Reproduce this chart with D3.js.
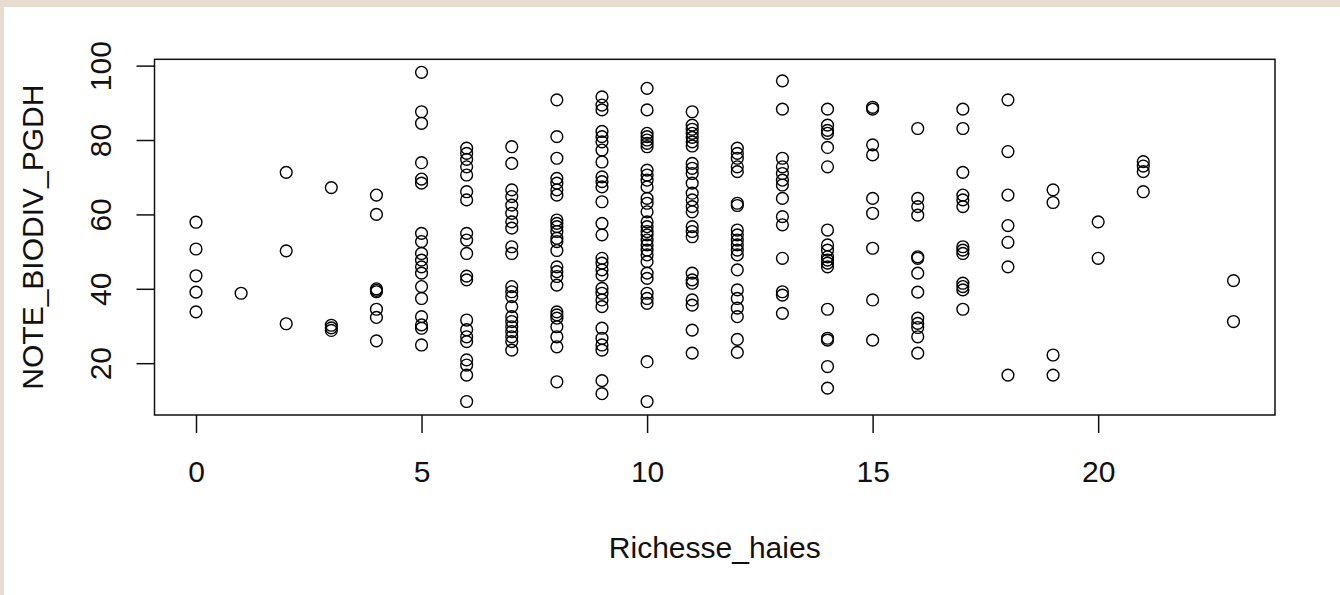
<!DOCTYPE html>
<html>
<head>
<meta charset="utf-8">
<script src="https://cdn.jsdelivr.net/npm/d3@7"></script>
<style>
  html, body { margin: 0; padding: 0; background: #fff; }
  svg { display: block; font-family: "Liberation Sans", Arial, sans-serif; }
</style>
</head>
<body>
<svg id="plot" width="1340" height="595"></svg>
<script>
"use strict";
/*global d3:false */

// Richesse_haies levels and the NOTE_BIODIV_PGDH values found at each level
var richesse = [0, 1, 2, 3, 4, 5, 6, 7, 8, 9, 10, 11, 12, 13, 14, 15, 16, 17, 18, 19, 20, 21, 22, 23];
var notes = [
  [57.9, 50.7, 43.5, 39.1, 33.8],
  [38.8],
  [71.3, 50.2, 30.6],
  [67.2, 30.2, 29.5, 28.8],
  [65.2, 60.0, 40.0, 39.6, 39.2, 34.5, 32.3, 26.0],
  [98.2, 87.6, 84.5, 73.9, 69.5, 68.4, 54.9, 52.7, 49.5, 47.7, 45.9, 44.2, 40.6, 37.4, 32.5, 30.3, 29.4, 24.9],
  [77.8, 76.4, 74.8, 72.8, 70.6, 66.1, 63.9, 54.9, 53.1, 49.5, 43.4, 42.4, 31.6, 29.0, 27.1, 25.8, 20.9, 19.5, 16.8, 9.7],
  [78.2, 73.7, 66.6, 64.8, 62.5, 60.3, 58.0, 56.3, 51.3, 49.5, 40.6, 39.2, 37.9, 35.2, 32.5, 31.2, 29.8, 28.5, 27.1, 25.8, 23.5],
  [90.8, 80.9, 75.1, 69.7, 68.4, 66.6, 65.2, 58.5, 57.6, 56.7, 55.4, 53.6, 52.7, 50.3, 45.9, 44.6, 43.3, 41.0, 33.8, 33.0, 32.1, 29.8, 27.1, 24.4, 15.0],
  [91.6, 89.4, 88.1, 82.3, 80.9, 79.5, 77.3, 74.1, 70.1, 68.8, 67.4, 63.4, 57.6, 54.5, 48.2, 46.9, 45.1, 43.7, 40.1, 38.8, 37.0, 35.2, 29.4, 26.7, 24.9, 23.5, 15.3, 11.8],
  [93.9, 88.1, 81.8, 80.9, 80.0, 79.1, 78.2, 71.9, 70.6, 69.2, 67.4, 64.3, 63.0, 60.7, 58.0, 56.7, 55.4, 54.5, 53.1, 51.8, 50.4, 49.1, 47.3, 44.2, 42.8, 38.8, 37.4, 36.1, 20.4, 9.7],
  [87.6, 84.0, 82.9, 81.8, 80.7, 79.5, 78.4, 73.7, 72.4, 71.0, 68.4, 65.7, 63.9, 62.1, 60.7, 56.7, 55.4, 54.0, 44.2, 42.4, 41.5, 37.0, 35.6, 28.9, 22.7],
  [77.8, 76.4, 75.1, 72.8, 71.5, 63.0, 62.4, 55.8, 54.5, 53.1, 51.8, 50.4, 49.1, 45.1, 39.7, 37.4, 34.8, 32.5, 26.4, 22.9],
  [95.9, 88.3, 75.1, 72.8, 71.0, 69.2, 67.9, 64.3, 59.4, 57.2, 48.2, 39.2, 38.3, 33.4],
  [88.3, 84.0, 82.6, 81.8, 78.0, 72.8, 55.8, 51.8, 50.4, 48.6, 47.7, 46.9, 45.9, 34.5, 26.7, 26.2, 19.1, 13.3],
  [88.8, 88.3, 78.7, 76.0, 64.3, 60.3, 50.9, 37.0, 26.2],
  [83.1, 64.3, 62.1, 59.8, 48.6, 48.2, 44.2, 39.1, 32.1, 30.7, 29.6, 27.1, 22.7],
  [88.3, 83.1, 71.3, 65.2, 63.9, 62.1, 51.3, 50.4, 49.5, 41.5, 40.6, 39.7, 34.5],
  [90.8, 76.9, 65.2, 57.0, 52.5, 45.9, 16.8],
  [66.6, 63.2, 22.2, 16.8],
  [58.0, 48.2],
  [74.2, 73.0, 71.5, 66.1],
  [],
  [42.2, 31.2]
];
var xTicks = [0, 5, 10, 15, 20];
var yTicks = [20, 40, 60, 80, 100];
var xLabel = "Richesse_haies";
var yLabel = "NOTE_BIODIV_PGDH";

var box = { left: 154.5, right: 1275, top: 59.3, bottom: 415 };
var fontSize = 30;

var svg = d3.select('#plot');

// white page with the beige window frame at top and left
svg.append('rect').attr('width', 1340).attr('height', 595).attr('fill', '#ffffff');
svg.append('rect').attr('width', 1340).attr('height', 7).attr('fill', '#e6dcd1');
svg.append('rect').attr('width', 4).attr('height', 595).attr('fill', '#e6dcd1');

var x = d3.scaleLinear().domain([-0.92, 23.92]).range([box.left, box.right]);
var y = d3.scaleLinear().domain([6.07, 101.7]).range([box.bottom, box.top]);

var points = [];
richesse.forEach(function (r, i) {
  notes[i].forEach(function (v) { points.push({ x: r, y: v }); });
});

svg.append('g')
  .selectAll('circle')
  .data(points)
  .enter()
  .append('circle')
  .attr('cx', function (d) { return x(d.x); })
  .attr('cy', function (d) { return y(d.y); })
  .attr('r', 5.9)
  .attr('fill', 'none')
  .attr('stroke', '#000')
  .attr('stroke-width', 1.4);

svg.append('rect')
  .attr('x', box.left).attr('y', box.top)
  .attr('width', box.right - box.left).attr('height', box.bottom - box.top)
  .attr('fill', 'none').attr('stroke', '#111').attr('stroke-width', 1.5);

var xAxis = svg.append('g')
  .attr('transform', 'translate(0,' + box.bottom + ')')
  .call(d3.axisBottom(x).tickValues(xTicks).tickSize(18).tickSizeOuter(0));
xAxis.select('.domain').remove();
xAxis.selectAll('line').attr('stroke', '#111').attr('stroke-width', 1.5);
xAxis.selectAll('text')
  .attr('y', 67).attr('dy', null)
  .attr('font-size', fontSize).attr('font-family', null).attr('fill', '#111');

var yAxis = svg.append('g')
  .attr('transform', 'translate(' + box.left + ',0)')
  .call(d3.axisLeft(y).tickValues(yTicks).tickSize(18).tickSizeOuter(0));
yAxis.select('.domain').remove();
yAxis.selectAll('line').attr('stroke', '#111').attr('stroke-width', 1.5);
yAxis.selectAll('text')
  .attr('x', null).attr('dy', null)
  .attr('transform', 'translate(-43.5,0) rotate(-90)')
  .attr('text-anchor', 'middle')
  .attr('font-size', fontSize).attr('font-family', null).attr('fill', '#111');

svg.append('text')
  .attr('x', (box.left + box.right) / 2).attr('y', 558)
  .attr('text-anchor', 'middle').attr('font-size', fontSize).attr('fill', '#111')
  .text(xLabel);

svg.append('text')
  .attr('transform', 'translate(43,' + (box.top + box.bottom) / 2 + ') rotate(-90)')
  .attr('text-anchor', 'middle').attr('font-size', fontSize).attr('fill', '#111')
  .text(yLabel);
</script>
</body>
</html>
